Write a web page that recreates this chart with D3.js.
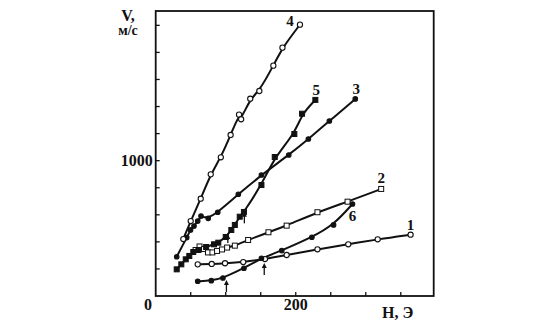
<!DOCTYPE html>
<html>
<head>
<meta charset="utf-8">
<script src="https://cdn.jsdelivr.net/npm/d3@7"></script>
<style>
  html, body { margin: 0; padding: 0; background: #fff; }
  svg { display: block; }
  text { font-family: "Liberation Serif", "Times New Roman", serif; font-weight: bold; fill: #111; }
</style>
</head>
<body>
<svg id="chart" width="553" height="332"></svg>
<script>
// Domain wall velocity V (m/s) versus field H (Oe), six samples.
const s1H = [60, 80, 99, 125, 156, 187, 231, 275, 317, 364];
const s1V = [234, 237, 242, 251, 273, 303, 345, 382, 419, 453];

const s2H = [57, 62.6, 69, 74.7, 81, 87.6, 94.7, 102, 113, 132, 161, 187, 231, 274, 322];
const s2V = [340, 366, 347, 322, 322, 333, 344, 358, 372, 414, 471, 520, 619, 697, 791];

const s3H = [30, 44.3, 49.7, 54.7, 60, 64.7, 75, 88.6, 118, 151, 190, 218, 248, 285];
const s3V = [290, 432, 488, 517, 554, 591, 574, 619, 752, 894, 1042, 1160, 1293, 1456];

const s4H = [39.4, 50, 64.3, 78.6, 93, 107, 119, 122, 135, 148, 168, 181, 206];
const s4V = [421, 554, 719, 899, 1025, 1190, 1340, 1306, 1458, 1515, 1702, 1835, 2005];

const s5H = [30, 36.6, 42.9, 48, 53.7, 61, 72, 83.3, 89.4, 100, 108, 113, 120, 126, 151, 170, 198, 209, 228];
const s5V = [197, 234, 271, 296, 325, 340, 362, 382, 394, 436, 488, 525, 586, 621, 820, 1027, 1197, 1347, 1449];

const s6H = [60, 79.4, 96, 126, 151, 180, 223, 254, 281];
const s6V = [109, 113, 133, 205, 279, 336, 434, 525, 680];

const seriesNames = ["1", "2", "3", "4", "5", "6"];

// Threshold arrows: field, tip and tail velocity
const arrowH = [101, 155, 126.6, 103];
const arrowTip = [118, 244, 623, 458];
const arrowTail = [30, 155, 537, 392];

const xTicks = d3.range(50, 351, 50);
const yTicks = d3.range(200, 2001, 200);
const xTickLabels = [[200, "200"]];
const yTickLabels = [[1000, "1000"]];

const svg = d3.select("#chart");
const x = d3.scaleLinear().domain([0, 397]).range([155.7, 433.7]);
const y = d3.scaleLinear().domain([0, 2106]).range([296, 11]);

const ink = "#111";

// frame
svg.append("rect")
  .attr("x", x(0)).attr("y", y(2106))
  .attr("width", x(397) - x(0)).attr("height", y(0) - y(2106))
  .attr("fill", "none").attr("stroke", ink).attr("stroke-width", 1.8);

// inward ticks
svg.append("g").selectAll("line").data(xTicks).join("line")
  .attr("x1", d => x(d)).attr("x2", d => x(d))
  .attr("y1", y(0)).attr("y2", y(0) - 4)
  .attr("stroke", ink).attr("stroke-width", 1.3);
svg.append("g").selectAll("line").data(yTicks).join("line")
  .attr("x1", x(0)).attr("x2", x(0) + 4)
  .attr("y1", d => y(d)).attr("y2", d => y(d))
  .attr("stroke", ink).attr("stroke-width", 1.3);

// tick labels
svg.append("g").selectAll("text").data(xTickLabels).join("text")
  .attr("x", d => x(d[0])).attr("y", 310)
  .attr("text-anchor", "middle").attr("font-size", 16)
  .text(d => d[1]);
svg.append("g").selectAll("text").data(yTickLabels).join("text")
  .attr("x", x(0) - 3).attr("y", d => y(d[0]) + 5.5)
  .attr("text-anchor", "end").attr("font-size", 16)
  .text(d => d[1]);
svg.append("text").attr("x", 148).attr("y", 310)
  .attr("text-anchor", "middle").attr("font-size", 16).text("0");

// axis titles
svg.append("text").attr("x", 128).attr("y", 21)
  .attr("text-anchor", "middle").attr("font-size", 16).text("V,");
svg.append("text").attr("x", 128).attr("y", 35)
  .attr("text-anchor", "middle").attr("font-size", 14).text("м/с");
svg.append("text").attr("x", 382).attr("y", 318)
  .attr("text-anchor", "start").attr("font-size", 16).text("H, Э");

const series = [
  { H: s1H, V: s1V, mark: "circle", filled: false },
  { H: s2H, V: s2V, mark: "square", filled: false },
  { H: s3H, V: s3V, mark: "circle", filled: true },
  { H: s4H, V: s4V, mark: "circle", filled: false },
  { H: s5H, V: s5V, mark: "square", filled: true },
  { H: s6H, V: s6V, mark: "circle", filled: true }
].map((s, i) => ({ ...s, name: seriesNames[i], pts: s.H.map((h, j) => [h, s.V[j]]) }));

const line = d3.line().x(d => x(d[0])).y(d => y(d[1])).curve(d3.curveBasis);

svg.append("g").selectAll("path").data(series).join("path")
  .attr("d", d => line(d.pts))
  .attr("fill", "none").attr("stroke", ink).attr("stroke-width", 2);

// markers
series.forEach(s => {
  const g = svg.append("g");
  if (s.mark === "circle") {
    g.selectAll("circle").data(s.pts).join("circle")
      .attr("cx", d => x(d[0])).attr("cy", d => y(d[1]))
      .attr("r", s.filled ? 2.3 : 2.6)
      .attr("fill", s.filled ? ink : "#fff")
      .attr("stroke", ink).attr("stroke-width", 1.1);
  } else {
    const a = 5;
    g.selectAll("rect").data(s.pts).join("rect")
      .attr("x", d => x(d[0]) - a / 2).attr("y", d => y(d[1]) - a / 2)
      .attr("width", a).attr("height", a)
      .attr("fill", s.filled ? ink : "#fff")
      .attr("stroke", ink).attr("stroke-width", 1);
  }
});

// series numbers near the end of each curve
const labelOffset = { "1": [0, -5], "2": [0, -6], "3": [1, -5], "4": [-10, 1], "5": [1, -5], "6": [0, 17] };
svg.append("g").selectAll("text").data(series).join("text")
  .attr("x", d => x(d.H[d.H.length - 1]) + labelOffset[d.name][0])
  .attr("y", d => y(d.V[d.V.length - 1]) + labelOffset[d.name][1])
  .attr("text-anchor", "middle").attr("font-size", 15)
  .text(d => d.name);

// threshold arrows
const arrows = arrowH.map((h, i) => ({ h, tip: arrowTip[i], tail: arrowTail[i] }));
const ag = svg.append("g");
ag.selectAll("line").data(arrows).join("line")
  .attr("x1", d => x(d.h)).attr("x2", d => x(d.h))
  .attr("y1", d => y(d.tail)).attr("y2", d => y(d.tip) + 3)
  .attr("stroke", ink).attr("stroke-width", 1.3);
ag.selectAll("path").data(arrows).join("path")
  .attr("d", d => {
    const cx = x(d.h), ty = y(d.tip);
    return `M${cx},${ty} L${cx - 2.5},${ty + 5} L${cx + 2.5},${ty + 5} Z`;
  })
  .attr("fill", ink);
</script>
</body>
</html>
